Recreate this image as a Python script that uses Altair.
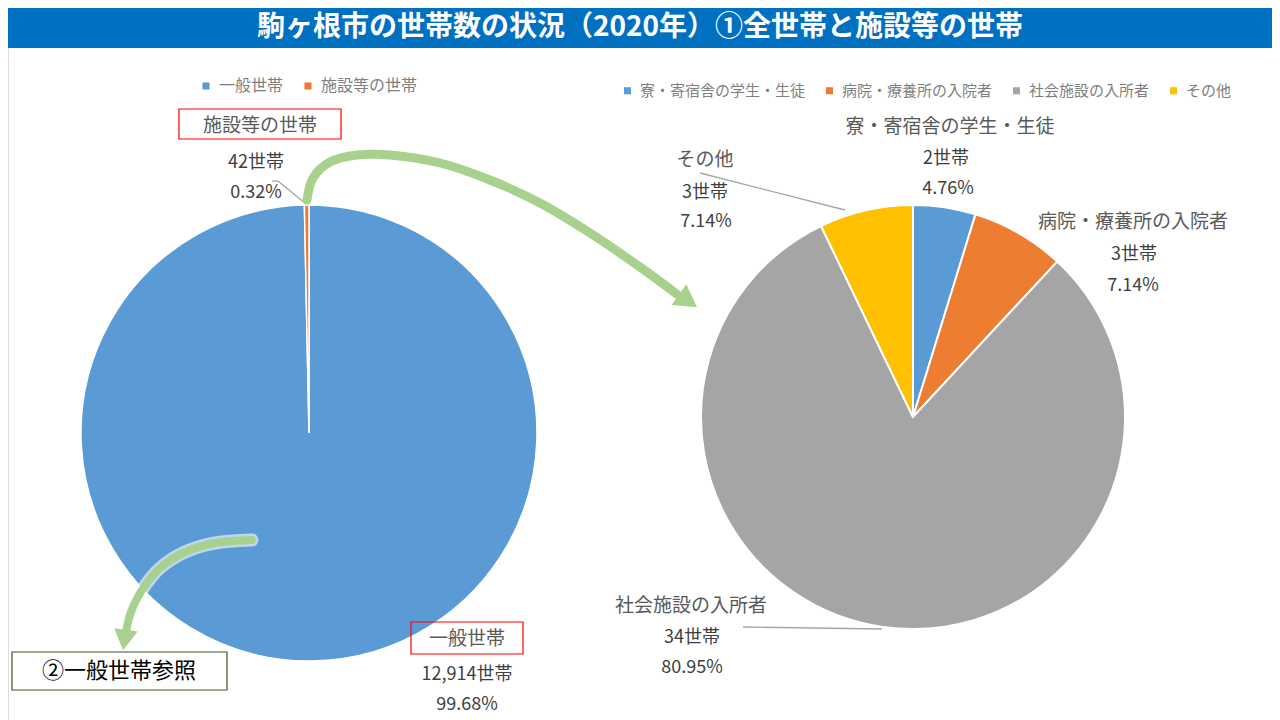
import altair as alt
import pandas as pd

# ---------------- data ----------------
left_cats = ["一般世帯", "施設等の世帯"]
left_counts = [12914, 42]
left_colors = ["#5B9BD5", "#ED7D31"]

right_cats = ["寮・寄宿舎の学生・生徒", "病院・療養所の入院者", "社会施設の入所者", "その他"]
right_counts = [2, 3, 34, 3]
right_colors = ["#5B9BD5", "#ED7D31", "#A5A5A5", "#FFC000"]

title_text = "駒ヶ根市の世帯数の状況（2020年）①全世帯と施設等の世帯"
ref_text = "②一般世帯参照"

# decorative arrow paths (screen pixels)
arrow1_x = [307, 313, 330, 357, 390, 440, 490, 540, 590, 640, 678]
arrow1_y = [200, 178, 162, 155, 155, 163, 180, 203, 233, 267, 295]
arrow2_x = [252, 215, 185, 160, 142, 131, 126]
arrow2_y = [540, 543, 552, 568, 590, 612, 632]

FONT = "Noto Sans CJK JP"
W, H = 1264, 712
OFF = 8


def X(v):
    return v - OFF


def Y(v):
    return v - OFF


one = pd.DataFrame({"a": [0]})


def pct(counts):
    t = sum(counts)
    return [f"{c / t * 100:.2f}%" for c in counts]


left_pct = pct(left_counts)
right_pct = pct(right_counts)


def text_layer(s, x, y, size, color, weight="normal", align="center"):
    return alt.Chart(one).mark_text(
        fontSize=size, color=color, font=FONT, fontWeight=weight,
        align=align, baseline="middle"
    ).encode(x=alt.value(X(x)), y=alt.value(Y(y)), text=alt.value(s))


def box_layer(x1, y1, x2, y2, stroke, width=1.2, fill=None):
    kw = dict(stroke=stroke, strokeWidth=width)
    if fill is None:
        kw["fillOpacity"] = 0
    else:
        kw["fill"] = fill
    return alt.Chart(one).mark_rect(**kw).encode(
        x=alt.value(X(x1)), x2=alt.value(X(x2)),
        y=alt.value(Y(y1)), y2=alt.value(Y(y2)))


def seg_layer(x1, y1, x2, y2, color="#A6A6A6", width=1.3):
    return alt.Chart(one).mark_rule(color=color, strokeWidth=width).encode(
        x=alt.value(X(x1)), x2=alt.value(X(x2)),
        y=alt.value(Y(y1)), y2=alt.value(Y(y2)))


xs = alt.Scale(domain=[0, W], range=[0, W], nice=False, zero=False)
ys = alt.Scale(domain=[0, H], range=[0, H], nice=False, zero=False)


def path_layer(px, py, color, width, opacity=1.0):
    df = pd.DataFrame({"x": [X(v) for v in px], "y": [Y(v) for v in py],
                       "i": list(range(len(px)))})
    return alt.Chart(df).mark_line(
        color=color, strokeWidth=width, strokeCap="round", strokeJoin="round",
        interpolate="cardinal", opacity=opacity
    ).encode(x=alt.X("x:Q", scale=xs, axis=None),
             y=alt.Y("y:Q", scale=ys, axis=None),
             order=alt.Order("i:Q"))


def head_layer(x, y, angle, size, color):
    return alt.Chart(one).mark_point(
        shape="triangle-down", filled=True, color=color, opacity=1,
        size=size, angle=angle, strokeWidth=0
    ).encode(x=alt.value(X(x)), y=alt.value(Y(y)))


def legend(lx, ly, size, pad):
    return alt.Legend(
        orient="none", legendX=X(lx), legendY=Y(ly), direction="horizontal",
        title=None, symbolType="square", symbolSize=50, symbolStrokeWidth=0,
        labelFont=FONT, labelFontSize=size, labelColor="#7F7F7F",
        labelOffset=5, columnPadding=pad, labelLimit=500, padding=0)


left_df = pd.DataFrame({"cat": left_cats, "count": left_counts,
                        "idx": list(range(len(left_cats)))})
right_df = pd.DataFrame({"cat": right_cats, "count": right_counts,
                         "idx": list(range(len(right_cats)))})

left_pie = alt.Chart(left_df).mark_arc(stroke="white", strokeWidth=1.5).encode(
    theta=alt.Theta("count:Q", stack=True),
    color=alt.Color("cat:N", sort=left_cats,
                    scale=alt.Scale(domain=left_cats, range=left_colors),
                    legend=legend(198, 78, 16, 16)),
    order=alt.Order("idx:Q"),
    x=alt.value(X(309)), y=alt.value(Y(433)), radius=alt.value(228),
)

right_pie = alt.Chart(right_df).mark_arc(stroke="white", strokeWidth=2).encode(
    theta=alt.Theta("count:Q", stack=True),
    color=alt.Color("cat:N", sort=right_cats,
                    scale=alt.Scale(domain=right_cats, range=right_colors),
                    legend=legend(620, 83, 15, 16)),
    order=alt.Order("idx:Q"),
    x=alt.value(X(913)), y=alt.value(Y(417)), radius=alt.value(212),
)

CAT = "#595959"
VAL = "#404040"
CS = 19
VS = 18

layers = [
    # title banner
    box_layer(OFF, OFF, W + OFF, 48, stroke="#0070C0", width=0, fill="#0070C0"),
    text_layer(title_text, 640, 28, 28, "white", weight="bold"),
    left_pie,
    right_pie,
    # leader lines
    seg_layer(272, 181, 278, 181),
    seg_layer(278, 181, 306, 204),
    seg_layer(700, 173, 845, 210),
    seg_layer(743, 627, 882, 629),
    # left labels
    box_layer(179, 109, 341, 139, stroke="#FF0000"),
    text_layer(left_cats[1], 260, 126, CS, CAT),
    text_layer(f"{left_counts[1]:,}世帯", 256, 163, VS, VAL),
    text_layer(left_pct[1], 256, 193, VS, VAL),
    box_layer(411, 622, 523, 654, stroke="#FF0000"),
    text_layer(left_cats[0], 467, 639, CS, CAT),
    text_layer(f"{left_counts[0]:,}世帯", 467, 675, VS, VAL),
    text_layer(left_pct[0], 467, 705, VS, VAL),
    # right labels
    text_layer(right_cats[0], 950, 127, CS, CAT),
    text_layer(f"{right_counts[0]:,}世帯", 946, 159, VS, VAL),
    text_layer(right_pct[0], 948, 189, VS, VAL),
    text_layer(right_cats[1], 1133, 222, CS, CAT),
    text_layer(f"{right_counts[1]:,}世帯", 1134, 255, VS, VAL),
    text_layer(right_pct[1], 1133, 286, VS, VAL),
    text_layer(right_cats[3], 705, 160, CS, CAT),
    text_layer(f"{right_counts[3]:,}世帯", 705, 193, VS, VAL),
    text_layer(right_pct[3], 706, 222, VS, VAL),
    text_layer(right_cats[2], 691, 606, CS, CAT),
    text_layer(f"{right_counts[2]:,}世帯", 692, 638, VS, VAL),
    text_layer(right_pct[2], 692, 668, VS, VAL),
    # arrows
    path_layer(arrow1_x, arrow1_y, "#A9D18E", 9),
    head_layer(688, 301, 305, 650, "#A9D18E"),
    path_layer(arrow2_x, arrow2_y, "white", 13, opacity=0.6),
    path_layer(arrow2_x, arrow2_y, "#A9D18E", 8),
    head_layer(124.5, 640, 8, 560, "#A9D18E"),
    # reference box
    box_layer(12, 652, 227, 690, stroke="#375623", width=1.2, fill="white"),
    text_layer(ref_text, 119, 671, 22, "#000000"),
]

chart = alt.layer(*layers).resolve_scale(
    color="independent", theta="independent"
).properties(
    width=W, height=H, padding=0, autosize="none"
).configure_view(stroke=None).configure(font=FONT)

chart.save("out.html", embed_options={"renderer": "svg", "actions": False})
